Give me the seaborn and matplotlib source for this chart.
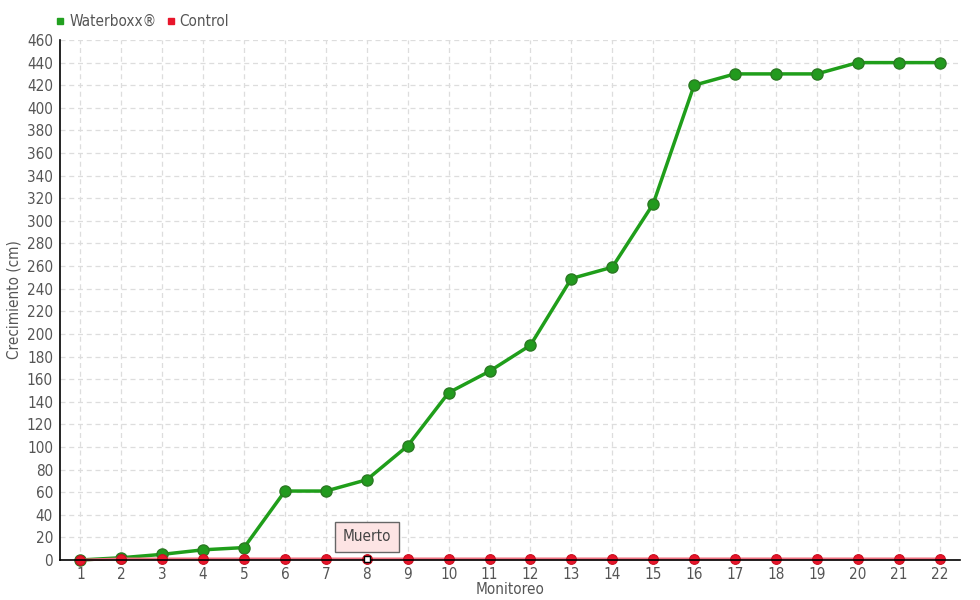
import numpy as np
import pandas as pd
import matplotlib
matplotlib.use("Agg")
import matplotlib.pyplot as plt
import seaborn as sns

monitoreo = list(range(1, 23))
waterboxx = [0, 2, 5, 9, 11, 61, 61, 71, 101, 148, 167, 190, 249, 259, 315,
             420, 430, 430, 430, 440, 440, 440]
control = [0, 1, 1, 1, 1, 1, 1, 1, 1, 1, 1, 1, 1, 1, 1, 1, 1, 1, 1, 1, 1, 1]
y_ticks = list(range(0, 461, 20))
muerto_idx = 8

df = pd.DataFrame({'Monitoreo': monitoreo, 'Waterboxx®': waterboxx, 'Control': control})

sns.set_style("white")
plt.rcParams['font.family'] = ['DejaVu Sans']
plt.rcParams['font.stretch'] = 'condensed'
txt = '#555555'

fig = plt.figure(figsize=(9.8, 6), dpi=100)
ax = fig.add_axes([60 / 980, 40 / 600, 900 / 980, 520 / 600])

green = '#1f9e1a'
red = '#e8152b'

sns.lineplot(data=df, x='Monitoreo', y='Waterboxx®', ax=ax, color=green, lw=2.5,
             marker='o', markersize=8, markeredgecolor='#2a7a22', markerfacecolor='#229a1e',
             markeredgewidth=1, label='Waterboxx®', zorder=3, clip_on=False)
sns.lineplot(data=df, x='Monitoreo', y='Control', ax=ax, color='#f07080', lw=2,
             marker='o', markersize=7, markeredgecolor='#c81020', markerfacecolor=red,
             markeredgewidth=0.8, label='Control', zorder=4, clip_on=False)

# dead marker
ax.plot(monitoreo[muerto_idx - 1], control[muerto_idx - 1], marker='s', ms=5,
        mfc='white', mec='black', mew=1, zorder=6, clip_on=False)
ax.annotate('Muerto', xy=(monitoreo[muerto_idx - 1], control[muerto_idx - 1] + 3),
            xytext=(monitoreo[muerto_idx - 1], 20.5), ha='center', va='center',
            fontsize=11, color='#444444',
            bbox=dict(boxstyle='square,pad=0.5', fc='#fde4e4', ec='#666666', lw=1),
            zorder=7)

ax.set_xlim(0.5, 22.5)
ax.set_ylim(0, 460)
ax.set_xticks(monitoreo)
ax.set_yticks(y_ticks)
ax.grid(True, color='#dddddd', linestyle=(0, (4, 3)), lw=0.9)
for s in ['top', 'right']:
    ax.spines[s].set_visible(False)
for s in ['left', 'bottom']:
    ax.spines[s].set_color('black')
    ax.spines[s].set_linewidth(1.2)
    ax.spines[s].set_zorder(5)
ax.tick_params(axis='both', colors=txt, labelsize=11, length=4, width=1,
               direction='out', pad=1)
ax.tick_params(axis='both', color='black')
ax.set_xlabel('Monitoreo', color=txt, fontsize=11, labelpad=0)
ax.set_ylabel('Crecimiento (cm)', color=txt, fontsize=11, labelpad=4)

ax.legend(loc='lower left', bbox_to_anchor=(-0.02, 0.995), ncol=2, frameon=False,
          fontsize=11, handlelength=0.6, handletextpad=0.3, columnspacing=0.6,
          labelcolor=txt,
          handles=[plt.Line2D([], [], marker='s', ls='', color='#22a020', ms=5),
                   plt.Line2D([], [], marker='s', ls='', color=red, ms=5)],
          labels=['Waterboxx®', 'Control'])

fig.savefig('out.png', dpi=100)
